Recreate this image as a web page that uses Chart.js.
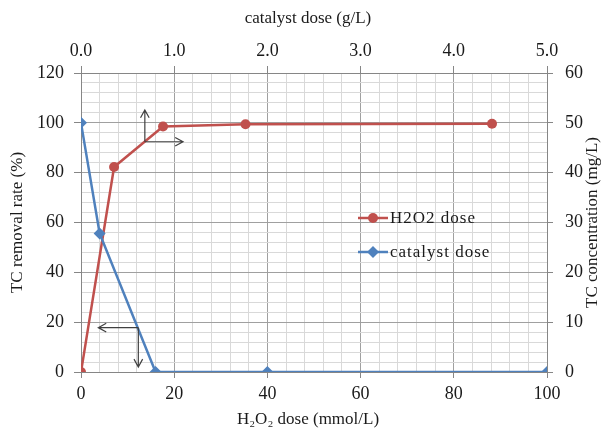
<!DOCTYPE html>
<html lang="en">
<head>
<meta charset="UTF-8" />
<title>TC removal vs H2O2 and catalyst dose</title>
<script src="https://cdn.jsdelivr.net/npm/chart.js"></script>
<style>
  html, body { margin: 0; padding: 0; background: #fff; }
  #wrap { width: 610px; height: 433px; }
</style>
</head>
<body>
<div id="wrap"><canvas id="chartCanvas" width="610" height="433"></canvas></div>
<script>
// H2O2 series: bottom axis (mmol/L) vs left axis (%)
const h2o2Dose = [0, 7.1, 17.6, 35.3, 88.2];
const h2o2Removal = [0, 82.3, 98.5, 99.4, 99.6];
// catalyst series: top axis (g/L) vs right axis (mg/L)
const catalystDose = [0, 0.2, 0.8, 2.0, 5.0];
const catalystConc = [50, 27.8, 0, 0, 0];

const seriesLabels = ["H2O2 dose", "catalyst dose"];
const axisTitles = {
  top: "catalyst dose (g/L)",
  bottom: "H\u2082O\u2082 dose (mmol/L)",
  left: "TC removal rate (%)",
  right: "TC concentration (mg/L)"
};

// arrow annotations, in data units: [xAxis, yAxis, x0, y0, x1, y1]
const arrows = [
  ["x", "y", 13.7, 92.4, 13.7, 105.2],
  ["x", "y", 13.7, 92.4, 21.9, 92.4],
  ["x2", "y2", 0.615, 8.9, 0.186, 8.9],
  ["x2", "y2", 0.615, 8.9, 0.615, 1.0]
];

const RED = "#C0504D";
const BLUE = "#4F81BD";
const MAJOR = "#A0A0A0";
const MINOR = "#D9D9D9";
const AXIS = "#868686";
const FONT = "'Liberation Serif', 'Times New Roman', serif";
const tickFont = { family: FONT, size: 18 };

function gridColor(step) {
  return (c) => (c.tick && Math.round(c.tick.value) % step === 0 ? MAJOR : MINOR);
}
function tickMarkColor(step) {
  return (c) => (c.tick && Math.round(c.tick.value) % step === 0 ? AXIS : "rgba(0,0,0,0)");
}

const extrasPlugin = {
  id: "extras",
  afterDatasetsDraw(chart) {
    const ctx = chart.ctx;
    const s = chart.scales;
    // arrows
    ctx.save();
    ctx.strokeStyle = "#404040";
    ctx.lineWidth = 1.2;
    arrows.forEach(([xa, ya, x0, y0, x1, y1]) => {
      const px0 = s[xa].getPixelForValue(x0), py0 = s[ya].getPixelForValue(y0);
      const px1 = s[xa].getPixelForValue(x1), py1 = s[ya].getPixelForValue(y1);
      ctx.beginPath();
      ctx.moveTo(px0, py0);
      ctx.lineTo(px1, py1);
      const ang = Math.atan2(py1 - py0, px1 - px0);
      const len = 9, spread = 0.5;
      ctx.moveTo(px1 - len * Math.cos(ang - spread), py1 - len * Math.sin(ang - spread));
      ctx.lineTo(px1, py1);
      ctx.lineTo(px1 - len * Math.cos(ang + spread), py1 - len * Math.sin(ang + spread));
      ctx.stroke();
    });
    ctx.restore();

    // legend inside the plot
    const lx = chart.chartArea.left + 277;
    const ly = [chart.chartArea.top + 145, chart.chartArea.top + 179];
    ctx.save();
    chart.data.datasets.forEach((ds, i) => {
      const y = ly[i];
      ctx.strokeStyle = ds.borderColor;
      ctx.lineWidth = 2.5;
      ctx.beginPath();
      ctx.moveTo(lx, y);
      ctx.lineTo(lx + 30, y);
      ctx.stroke();
      ctx.fillStyle = ds.backgroundColor;
      ctx.beginPath();
      if (ds.pointStyle === "circle") {
        ctx.arc(lx + 15, y, 5, 0, Math.PI * 2);
      } else {
        ctx.moveTo(lx + 15, y - 6);
        ctx.lineTo(lx + 21, y);
        ctx.lineTo(lx + 15, y + 6);
        ctx.lineTo(lx + 9, y);
        ctx.closePath();
      }
      ctx.fill();
      ctx.fillStyle = "#1a1a1a";
      ctx.font = "17px " + FONT;
      ctx.letterSpacing = "1px";
      ctx.textAlign = "left";
      ctx.textBaseline = "middle";
      ctx.fillText(ds.label, lx + 32, y + 1);
    });
    ctx.restore();
  },
  afterDraw(chart) {
    const ctx = chart.ctx;
    const a = chart.chartArea;
    const cx = 308;
    const cy = (a.top + a.bottom) / 2;
    ctx.save();
    ctx.fillStyle = "#1a1a1a";
    ctx.font = "17px " + FONT;
    ctx.textAlign = "center";
    ctx.textBaseline = "middle";
    ctx.fillText(axisTitles.top, cx, 19);
    ctx.fillText(axisTitles.bottom, cx, 420);
    ctx.save();
    ctx.translate(18, cy);
    ctx.rotate(-Math.PI / 2);
    ctx.fillText(axisTitles.left, 0, 0);
    ctx.restore();
    ctx.save();
    ctx.translate(593, cy);
    ctx.rotate(-Math.PI / 2);
    ctx.fillText(axisTitles.right, 0, 0);
    ctx.restore();
    ctx.restore();
  }
};

const ctx = document.getElementById("chartCanvas").getContext("2d");
const chart = new Chart(ctx, {
  type: "scatter",
  data: {
    datasets: [
      {
        label: seriesLabels[0],
        data: h2o2Dose.map((x, i) => ({ x: x, y: h2o2Removal[i] })),
        xAxisID: "x",
        yAxisID: "y",
        showLine: true,
        borderColor: RED,
        backgroundColor: RED,
        borderWidth: 2.5,
        pointStyle: "circle",
        pointRadius: 5,
        pointBorderWidth: 0,
        order: 1
      },
      {
        label: seriesLabels[1],
        data: catalystDose.map((x, i) => ({ x: x, y: catalystConc[i] })),
        xAxisID: "x2",
        yAxisID: "y2",
        showLine: true,
        borderColor: BLUE,
        backgroundColor: BLUE,
        borderWidth: 2.5,
        pointStyle: "rectRot",
        pointRadius: 6,
        pointBorderWidth: 0,
        order: 0
      }
    ]
  },
  options: {
    responsive: false,
    devicePixelRatio: 1,
    animation: false,
    layout: { padding: 0 },
    plugins: { legend: { display: false }, tooltip: { enabled: false } },
    scales: {
      x: {
        type: "linear",
        position: "bottom",
        min: 0,
        max: 100,
        afterFit: (sc) => { sc.height = 61; },
        border: { color: AXIS },
        grid: { color: gridColor(20), tickColor: tickMarkColor(20), tickLength: 6 },
        ticks: {
          stepSize: 4,
          autoSkip: false,
          maxRotation: 0,
          padding: 5,
          color: "#1a1a1a",
          font: tickFont,
          callback: (v) => (Math.round(v) % 20 === 0 ? String(Math.round(v)) : "")
        }
      },
      x2: {
        type: "linear",
        position: "top",
        min: 0,
        max: 5,
        afterFit: (sc) => { sc.height = 73; },
        border: { color: AXIS },
        grid: { drawOnChartArea: false, color: AXIS, tickLength: 7 },
        ticks: {
          stepSize: 1,
          autoSkip: false,
          maxRotation: 0,
          padding: 4,
          color: "#1a1a1a",
          font: tickFont,
          callback: (v) => Number(v).toFixed(1)
        }
      },
      y: {
        type: "linear",
        position: "left",
        min: 0,
        max: 120,
        afterFit: (sc) => { sc.width = 81; },
        border: { color: AXIS },
        grid: { color: gridColor(20), tickColor: tickMarkColor(20), tickLength: 7 },
        ticks: {
          stepSize: 4,
          autoSkip: false,
          padding: 10,
          color: "#1a1a1a",
          font: tickFont,
          callback: (v) => (Math.round(v) % 20 === 0 ? String(Math.round(v)) : "")
        }
      },
      y2: {
        type: "linear",
        position: "right",
        min: 0,
        max: 60,
        afterFit: (sc) => { sc.width = 63; },
        border: { color: AXIS },
        grid: { drawOnChartArea: false, color: AXIS, tickLength: 6 },
        ticks: {
          stepSize: 10,
          autoSkip: false,
          padding: 12,
          color: "#1a1a1a",
          font: tickFont
        }
      }
    }
  },
  plugins: [extrasPlugin]
});
</script>
</body>
</html>
